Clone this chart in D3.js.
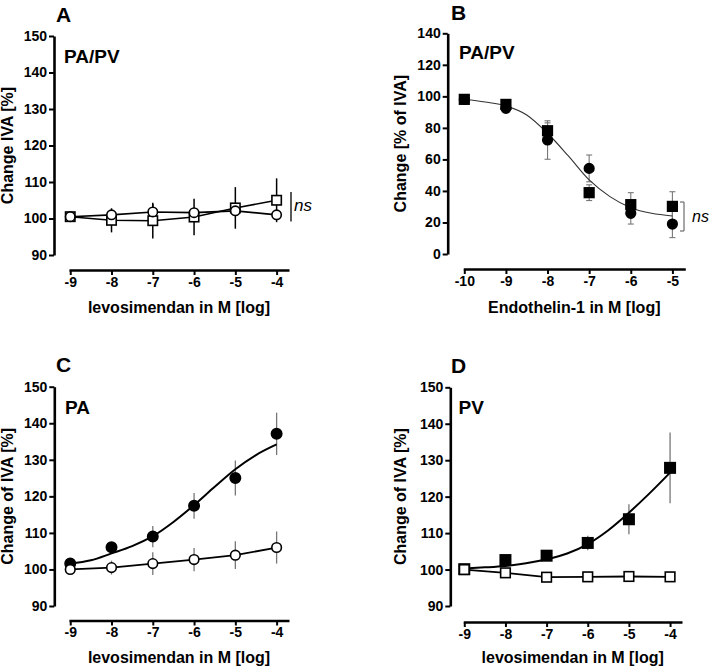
<!DOCTYPE html>
<html>
<head>
<meta charset="utf-8">
<script src="https://cdn.jsdelivr.net/npm/d3@7"></script>
<style>
  html, body { margin: 0; padding: 0; background: #fff; }
  svg text { font-family: "Liberation Sans", Arial, Helvetica, sans-serif; }
</style>
</head>
<body>
<div id="chart"></div>
<script>
// ---------------- DATA ----------------
const dosesLevo = [-9, -8, -7, -6, -5, -4];
const dosesET1 = [-10, -9, -8, -7, -6, -5];
const curveLevoX = [-9, -8.5, -8, -7.5, -7, -6.5, -6, -5.5, -5, -4.5, -4];
const curveET1X = [-10, -9.5, -9, -8.5, -8, -7.5, -7, -6.5, -6, -5.5, -5];

const yTicksIVA = [90, 100, 110, 120, 130, 140, 150];
const yTicksB = [0, 20, 40, 60, 80, 100, 120, 140];

// Panel A (PA/PV, levosimendan)
const aSquareMean = [100.5, 99.5, 99.4, 100.4, 102.9, 105.0];
const aSquareErr  = [0.5, 3.3, 4.9, 5.0, 5.7, 6.0];
const aCircleMean = [100.5, 101.0, 101.8, 101.6, 102.1, 101.0];
const aCircleErr  = [0.3, 1.3, 2.2, 1.0, 1.0, 0.5];

// Panel B (PA/PV, endothelin-1)
const bSquareMean = [98.1, 94.9, 78.2, 38.9, 31.3, 30.2];
const bSquareErr  = [0.8, 1.5, 5.0, 5.0, 7.6, 9.3];
const bCircleMean = [98.0, 92.4, 72.3, 54.3, 25.8, 19.0];
const bCircleErr  = [0.8, 1.5, 12.2, 8.5, 6.8, 8.6];
const bCurveY     = [98.2, 96.4, 93.9, 88.2, 76.6, 62.2, 47.0, 36.4, 29.4, 25.8, 24.1];

// Panel C (PA)
const cFilledMean = [101.6, 106.1, 109.0, 117.4, 125.0, 137.1];
const cFilledErr  = [0.5, 1.0, 2.9, 3.5, 4.8, 5.8];
const cOpenMean   = [100.0, 100.5, 101.6, 102.7, 103.9, 106.0];
const cOpenErr    = [0.3, 1.9, 3.1, 3.2, 3.8, 4.4];
const cCurveY     = [101.6, 102.5, 104.4, 106.4, 109.1, 113.0, 117.6, 122.6, 127.4, 131.3, 134.2];

// Panel D (PV)
const dFilledMean = [100.1, 102.6, 103.8, 107.3, 113.8, 127.9];
const dFilledErr  = [0.3, 0.8, 0.8, 2.0, 4.1, 9.7];
const dOpenMean   = [100.0, 99.1, 97.9, 98.0, 98.1, 98.0];
const dOpenErr    = [0.3, 0.5, 0.5, 0.5, 0.5, 0.5];
const dCurveY     = [100.3, 100.6, 101.0, 101.7, 102.8, 104.4, 107.0, 110.8, 115.6, 120.9, 126.6];

// ---------------- DRAW ----------------
const W = 712, H = 669;
const svg = d3.select("#chart").append("svg")
  .attr("width", W).attr("height", H)
  .attr("viewBox", `0 0 ${W} ${H}`);
svg.append("rect").attr("width", W).attr("height", H).attr("fill", "#fff");

function zip(xs, ys, es) { return xs.map((x, i) => ({ x, y: ys[i], e: es ? es[i] : 0 })); }

function drawPanel(p) {
  const g = svg.append("g");
  const x = d3.scaleLinear().domain(p.xDomain).range(p.xRange);
  const y = d3.scaleLinear().domain(p.yDomain).range(p.yRange);

  const ya = g.append("g").attr("transform", `translate(${p.yAxisX},0)`)
    .call(d3.axisLeft(y).tickValues(p.yTicks).tickSize(5).tickSizeOuter(0).tickPadding(2));
  const xa = g.append("g").attr("transform", `translate(0,${p.xAxisY})`)
    .call(d3.axisBottom(x).tickValues(p.xTicks).tickSize(5).tickSizeOuter(0).tickPadding(2)
      .tickFormat(d => String(d).replace("\u2212", "-")));
  [ya, xa].forEach(a => {
    a.select(".domain").attr("stroke", "#000").attr("stroke-width", 2.6);
    a.selectAll(".tick line").attr("stroke", "#000").attr("stroke-width", 2);
    a.selectAll(".tick text").attr("fill", "#000")
      .style("font-size", "14px").style("font-weight", "bold");
  });

  g.append("text")
    .attr("x", (p.xRange[0] + p.xRange[1]) / 2).attr("y", p.xTitleY)
    .attr("text-anchor", "middle").style("font-size", "16px").style("font-weight", "bold")
    .text(p.xTitle);
  g.append("text")
    .attr("transform", `translate(${p.yTitleX},${(p.yRange[0] + p.yRange[1]) / 2}) rotate(-90)`)
    .attr("text-anchor", "middle").style("font-size", "16px").style("font-weight", "bold")
    .text(p.yTitle);

  g.append("text").attr("x", p.letterX).attr("y", p.letterY)
    .style("font-size", "21px").style("font-weight", "bold").text(p.letter);
  g.append("text").attr("x", p.subX).attr("y", p.subY)
    .style("font-size", "19px").style("font-weight", "bold").text(p.sub);

  p.series.forEach(s => {
    const pts = zip(s.xs, s.mean, s.err);
    const eg = g.append("g");
    pts.forEach(d => {
      eg.append("line")
        .attr("x1", x(d.x)).attr("x2", x(d.x))
        .attr("y1", y(d.y - d.e)).attr("y2", y(d.y + d.e))
        .attr("stroke", s.errColor).attr("stroke-width", s.errWidth);
      if (s.caps) {
        [d.y - d.e, d.y + d.e].forEach(v => {
          eg.append("line")
            .attr("x1", x(d.x) - 3).attr("x2", x(d.x) + 3)
            .attr("y1", y(v)).attr("y2", y(v))
            .attr("stroke", s.errColor).attr("stroke-width", s.errWidth);
        });
      }
    });
  });
  p.series.forEach(s => {
    let lineData, curve;
    if (s.curveY) { lineData = zip(s.curveX, s.curveY); curve = d3.curveMonotoneX; }
    else { lineData = zip(s.xs, s.mean); curve = d3.curveLinear; }
    g.append("path")
      .attr("d", d3.line().x(d => x(d.x)).y(d => y(d.y)).curve(curve)(lineData))
      .attr("fill", "none").attr("stroke", s.lineColor || "#000")
      .attr("stroke-width", s.lineWidth);
  });
  p.series.forEach(s => {
    const pts = zip(s.xs, s.mean, s.err);
    const mg = g.append("g");
    pts.forEach(d => {
      if (s.shape === "circle") {
        mg.append("circle").attr("cx", x(d.x)).attr("cy", y(d.y)).attr("r", s.size)
          .attr("fill", s.filled ? "#000" : "#fff").attr("stroke", "#000").attr("stroke-width", 1.6);
      } else {
        mg.append("rect").attr("x", x(d.x) - s.size).attr("y", y(d.y) - s.size)
          .attr("width", 2 * s.size).attr("height", 2 * s.size)
          .attr("fill", s.filled ? "#000" : "#fff").attr("stroke", "#000").attr("stroke-width", 1.6);
      }
    });
  });

  if (p.ns) {
    const n = p.ns;
    const bg = g.append("g");
    bg.append("line").attr("x1", n.x).attr("x2", n.x).attr("y1", n.y1).attr("y2", n.y2)
      .attr("stroke", n.color).attr("stroke-width", 1.3);
    if (n.caps) {
      [n.y1, n.y2].forEach(v => bg.append("line").attr("x1", n.x - 4).attr("x2", n.x)
        .attr("y1", v).attr("y2", v).attr("stroke", n.color).attr("stroke-width", 1.3));
    }
    bg.append("text").attr("x", n.tx).attr("y", n.ty)
      .style("font-size", n.fs + "px").style("font-style", "italic").text("ns");
  }
}

drawPanel({
  xDomain: [-9.03, -3.7], xRange: [69, 289], yDomain: [90, 150], yRange: [255, 36],
  yAxisX: 54, xAxisY: 270, yTicks: yTicksIVA, xTicks: dosesLevo,
  xTitle: "levosimendan in M [log]", xTitleY: 313,
  yTitle: "Change IVA [%]", yTitleX: 13,
  letter: "A", letterX: 56, letterY: 22, sub: "PA/PV", subX: 64, subY: 63,
  series: [
    { xs: dosesLevo, mean: aSquareMean, err: aSquareErr, shape: "square", filled: false, size: 4.7,
      errColor: "#000", errWidth: 1.5, lineWidth: 1.6 },
    { xs: dosesLevo, mean: aCircleMean, err: aCircleErr, shape: "circle", filled: false, size: 4.7,
      errColor: "#000", errWidth: 1.5, lineWidth: 1.6 }
  ],
  ns: { x: 291, y1: 192, y2: 221.5, color: "#000", caps: false, tx: 294, ty: 211, fs: 17 }
});

drawPanel({
  xDomain: [-10.024, -4.69], xRange: [463.3, 685.3], yDomain: [0, 140], yRange: [254, 33.3],
  yAxisX: 447.7, xAxisY: 269, yTicks: yTicksB, xTicks: dosesET1,
  xTitle: "Endothelin-1 in M [log]", xTitleY: 313,
  yTitle: "Change [% of IVA]", yTitleX: 406,
  letter: "B", letterX: 451, letterY: 20, sub: "PA/PV", subX: 459, subY: 59,
  series: [
    { xs: dosesET1, mean: bCircleMean, err: bCircleErr, shape: "circle", filled: true, size: 4.8,
      errColor: "#777", errWidth: 1.1, caps: true, lineWidth: 0 },
    { xs: dosesET1, mean: bSquareMean, err: bSquareErr, shape: "square", filled: true, size: 4.8,
      errColor: "#777", errWidth: 1.1, caps: true, lineWidth: 1.1, lineColor: "#333",
      curveX: curveET1X, curveY: bCurveY }
  ],
  ns: { x: 684, y1: 202, y2: 231, color: "#777", caps: true, tx: 692, ty: 222, fs: 16 }
});

drawPanel({
  xDomain: [-9.03, -3.7], xRange: [69, 289], yDomain: [90, 150], yRange: [606, 386.7],
  yAxisX: 54.3, xAxisY: 620.5, yTicks: yTicksIVA, xTicks: dosesLevo,
  xTitle: "levosimendan in M [log]", xTitleY: 663,
  yTitle: "Change of IVA [%]", yTitleX: 13,
  letter: "C", letterX: 56, letterY: 372, sub: "PA", subX: 65, subY: 414,
  series: [
    { xs: dosesLevo, mean: cFilledMean, err: cFilledErr, shape: "circle", filled: true, size: 5.2,
      errColor: "#777", errWidth: 1.3, lineWidth: 2, curveX: curveLevoX, curveY: cCurveY },
    { xs: dosesLevo, mean: cOpenMean, err: cOpenErr, shape: "circle", filled: false, size: 4.8,
      errColor: "#777", errWidth: 1.3, lineWidth: 1.8 }
  ]
});

drawPanel({
  xDomain: [-9.024, -3.71], xRange: [463.3, 682], yDomain: [90, 150], yRange: [606, 387.3],
  yAxisX: 450.3, xAxisY: 622, yTicks: yTicksIVA, xTicks: dosesLevo,
  xTitle: "levosimendan in M [log]", xTitleY: 663,
  yTitle: "Change of IVA [%]", yTitleX: 406,
  letter: "D", letterX: 451, letterY: 373, sub: "PV", subX: 458.5, subY: 414,
  series: [
    { xs: dosesLevo, mean: dFilledMean, err: dFilledErr, shape: "square", filled: true, size: 5.2,
      errColor: "#777", errWidth: 1.3, lineWidth: 2, curveX: curveLevoX, curveY: dCurveY },
    { xs: dosesLevo, mean: dOpenMean, err: dOpenErr, shape: "square", filled: false, size: 4.8,
      errColor: "#777", errWidth: 1.3, lineWidth: 1.8 }
  ]
});
</script>
</body>
</html>
